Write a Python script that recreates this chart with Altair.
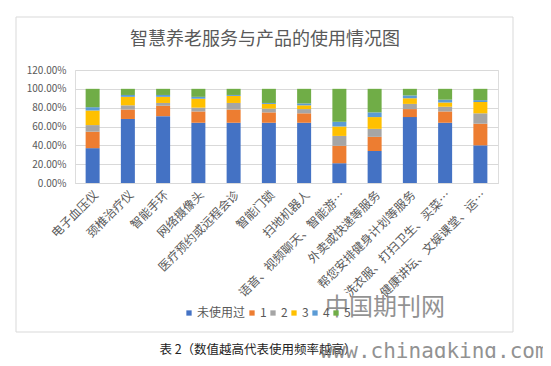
import altair as alt
import pandas as pd

title_text = "智慧养老服务与产品的使用情况图"
caption_text = "表 2（数值越高代表使用频率越高）"
watermark_cn = "中国期刊网"
watermark_url = "www.chinaqking.com"

categories = ["电子血压仪", "颈椎治疗仪", "智能手环", "网络摄像头", "医疗预约或远程会诊",
              "智能门锁", "扫地机器人", "语音、视频聊天、智能游…", "外卖或快递等服务",
              "帮您安排健身计划等服务", "洗衣服、打扫卫生、买菜…", "健康讲坛、文娱课堂、运…"]
series = ["未使用过", "1", "2", "3", "4", "5"]
colors = ["#4472C4", "#ED7D31", "#A5A5A5", "#FFC000", "#5B9BD5", "#70AD47"]

never = [37, 68, 71, 64, 64, 64, 64, 21, 34, 70, 64, 40]
s1 = [17.5, 10, 11, 12, 14, 11, 10, 18.5, 15, 8.5, 12, 23]
s2 = [7, 4.5, 3, 4, 7, 4, 4.5, 10.5, 8.5, 5.5, 5, 11]
s3 = [15.5, 9, 6.5, 9.5, 7.5, 5, 4, 10, 12.5, 6, 4.5, 12]
s4 = [3.5, 2, 2, 2, 1, 1, 2, 5, 5, 3, 3, 2]
s5 = [19.5, 6.5, 6.5, 8.5, 6.5, 15, 15.5, 35, 25, 7, 11.5, 12]

rows = []
for si, (name, vals) in enumerate(zip(series, [never, s1, s2, s3, s4, s5])):
    for c, v in zip(categories, vals):
        rows.append({"cat": c, "series": name, "order": si, "value": v / 100.0})
df = pd.DataFrame(rows)

FONT = "Noto Sans CJK SC"
GRAY = "#595959"

bars = alt.Chart(df).mark_bar(size=14).encode(
    x=alt.X("cat:N", sort=categories, title=None,
            scale=alt.Scale(paddingInner=0.2, paddingOuter=0.1),
            axis=alt.Axis(labelAngle=-45, labelFontSize=12, labelColor=GRAY, labelFont=FONT,
                          labelLimit=300, ticks=False, domainColor="#d9d9d9", labelPadding=6)),
    y=alt.Y("value:Q", stack="zero", title=None,
            scale=alt.Scale(domain=[0, 1.2]),
            axis=alt.Axis(values=[0, 0.2, 0.4, 0.6, 0.8, 1.0, 1.2], format=".2%",
                          labelFontSize=10, labelColor=GRAY, labelFont=FONT,
                          domain=False, ticks=False, gridColor="#d9d9d9", labelPadding=9)),
    color=alt.Color("series:N", sort=series,
                    scale=alt.Scale(domain=series, range=colors),
                    legend=alt.Legend(title=None, orient="none", legendX=108, legendY=237,
                                      direction="horizontal", symbolType="square", symbolSize=28,
                                      labelFontSize=12, labelColor=GRAY, labelFont=FONT,
                                      columnPadding=0, labelOffset=2, padding=0,
                                      gridAlign="each")),
    order=alt.Order("order:Q"),
)

border = alt.Chart(pd.DataFrame({"t": [0]})).mark_rect(fill=None, stroke="#d9d9d9", strokeWidth=1).encode(
    x=alt.value(-59), x2=alt.value(438), y=alt.value(-53), y2=alt.value(262)
)

def text_layer(txt, x, y, **kw):
    return alt.Chart(pd.DataFrame({"t": [txt]})).mark_text(**kw).encode(
        x=alt.value(x), y=alt.value(y), text="t:N")

title = text_layer(title_text, 190, -30, font=FONT, fontSize=18, color=GRAY, align="center", baseline="middle")
caption = text_layer(caption_text, 183, 280, font=FONT, fontSize=12.5, color="#222222", align="center", baseline="middle")
wm_cn = text_layer(watermark_cn, 310, 238, font=FONT, fontSize=24, color="#7f7f7f", align="center",
                   baseline="middle", opacity=0.85)
wm_url = text_layer(watermark_url, 245, 288, font="DejaVu Sans Mono", fontSize=21, color="#7f7f7f",
                    align="left", baseline="alphabetic", opacity=0.85)

chart = alt.layer(border, bars, title, caption, wm_cn, wm_url).properties(
    width=423, height=113,
    autosize=alt.AutoSizeParams(type="none"),
    padding={"left": 67, "top": 62, "right": 45, "bottom": 175},
).configure_view(stroke=None).configure(background="white")

chart.save("out.html", embed_options={"renderer": "svg", "actions": False})
